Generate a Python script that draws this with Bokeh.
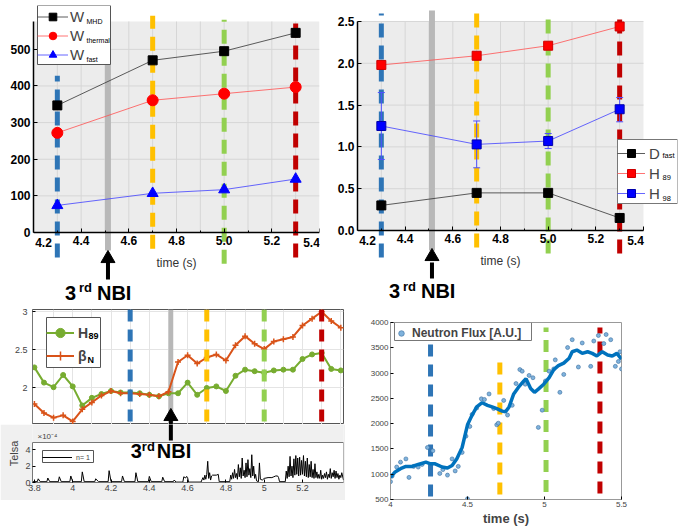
from bokeh.plotting import figure
from bokeh.layouts import row, column
from bokeh.models import (Range1d, Legend, LegendItem, Label, Span, BoxAnnotation,
                          FixedTicker, NumeralTickFormatter)
from bokeh.embed import file_html
from bokeh.resources import INLINE

FONT = "Liberation Sans"

# ---------------- data ----------------
times = [4.3, 4.7, 5.0, 5.3]
W_MHD = [347, 470, 495, 545]
W_thermal = [272, 361, 379, 397]
W_fast = [74, 107, 117, 146]
D_fast = [0.30, 0.45, 0.45, 0.15]
H89 = [1.98, 2.09, 2.21, 2.44]
H98 = [1.25, 1.03, 1.07, 1.45]
H98_low = [0.85, 0.75, 0.98, 1.30]
H98_high = [1.65, 1.31, 1.16, 1.59]

event_colors = ["#2e75b6", "#ffc000", "#92d050", "#c00000"]
nbi_window = [4.50, 4.525]
nbi_time = 4.5125

top_xticks = [4.2, 4.4, 4.6, 4.8, 5.0, 5.2, 5.4]
top_xminor = [4.3, 4.5, 4.7, 4.9, 5.1, 5.3]
w_yticks = [0, 100, 200, 300, 400, 500]
h_yticks = [0.0, 0.5, 1.0, 1.5, 2.0, 2.5]

scan_t = [3.80, 3.85, 3.90, 3.95, 4.00, 4.05, 4.10, 4.15, 4.20, 4.25, 4.30,
          4.35, 4.40, 4.45, 4.50, 4.55, 4.60, 4.65, 4.70, 4.75, 4.80, 4.85,
          4.90, 4.95, 5.00, 5.05, 5.10, 5.15, 5.20, 5.25, 5.30, 5.35, 5.40]
scan_H89 = [2.27, 2.07, 2.01, 2.17, 2.02, 1.77, 1.87, 1.92, 1.96, 1.94, 1.94,
            1.93, 1.91, 1.89, 1.93, 1.93, 2.07, 1.91, 2.00, 2.02, 1.96, 2.16,
            2.24, 2.22, 2.20, 2.23, 2.24, 2.24, 2.38, 2.44, 2.46, 2.25, 2.23]
scan_betaN = [1.79, 1.67, 1.61, 1.64, 1.56, 1.72, 1.81, 1.90, 1.96, 1.93, 1.93,
              1.92, 1.91, 1.89, 1.95, 2.34, 2.43, 2.32, 2.40, 2.44, 2.36, 2.56,
              2.68, 2.58, 2.51, 2.61, 2.64, 2.67, 2.82, 2.91, 3.00, 2.88, 2.79]
scan_xticks = [3.8, 4.0, 4.2, 4.4, 4.6, 4.8, 5.0, 5.2]
scan_xgrid = [3.9, 4.0, 4.1, 4.2, 4.3, 4.4, 4.5, 4.6, 4.7, 4.8, 4.9, 5.0, 5.1,
              5.2, 5.3, 5.4]
scan_yticks = [2.0, 2.5, 3.0]

# n=1 magnetic perturbation amplitude (units of 1e-4 T)
mode_n1_t = [3.790, 3.815, 3.820, 3.830, 3.865, 3.870, 3.880, 3.925, 3.930, 3.940,
             3.985, 3.990, 4.000, 4.045, 4.050, 4.060, 4.115, 4.120, 4.135, 4.185,
             4.190, 4.200, 4.255, 4.260, 4.270, 4.325, 4.330, 4.340, 4.395, 4.400,
             4.410, 4.465, 4.470, 4.480, 4.525, 4.530, 4.540, 4.575, 4.580, 4.590,
             4.595, 4.600, 4.605, 4.670, 4.680, 4.685, 4.690, 4.695, 4.700, 4.705,
             4.710, 4.715, 4.720, 4.725, 4.730, 4.750, 4.760, 4.765, 4.820, 4.825,
             4.830, 4.835, 4.840, 4.845, 4.850, 4.855, 4.860, 4.865, 4.870, 4.875,
             4.880, 4.885, 4.890, 4.895, 4.900, 4.905, 4.910, 4.915, 4.920, 4.925,
             4.930, 4.935, 4.940, 4.945, 4.950, 4.955, 4.960, 4.970, 4.975, 4.980,
             4.990, 5.000, 5.020, 5.040, 5.050, 5.060, 5.070, 5.075, 5.080, 5.110,
             5.115, 5.120, 5.125, 5.130, 5.135, 5.140, 5.145, 5.150, 5.155, 5.160,
             5.165, 5.170, 5.175, 5.180, 5.185, 5.190, 5.195, 5.200, 5.205, 5.210,
             5.215, 5.220, 5.225, 5.230, 5.235, 5.240, 5.245, 5.250, 5.255, 5.260,
             5.265, 5.270, 5.275, 5.280, 5.285, 5.290, 5.295, 5.300, 5.305, 5.310,
             5.315, 5.320, 5.325, 5.330, 5.335, 5.340, 5.345, 5.350, 5.355, 5.360,
             5.365, 5.370, 5.375, 5.380, 5.385, 5.390, 5.395, 5.400, 5.405, 5.414]
mode_n1_b = [0.10, 0.10, 0.45, 0.10, 0.10, 0.55, 0.10, 0.10, 0.70, 0.10,
             0.10, 0.80, 0.10, 0.10, 1.30, 0.10, 0.10, 0.45, 0.10, 0.10,
             1.45, 0.10, 0.10, 0.80, 0.10, 0.10, 1.20, 0.10, 0.10, 0.75,
             0.10, 0.10, 0.65, 0.10, 0.10, 0.30, 0.05, 0.05, 0.70, 0.55,
             0.75, 0.60, 0.05, 0.05, 0.60, 0.30, 0.90, 0.40, 1.00, 2.60,
             0.50, 1.20, 0.30, 0.80, 0.90, 0.90, 1.00, 0.10, 0.10, 0.90,
             0.40, 1.20, 0.50, 1.60, 0.60, 1.10, 0.40, 2.20, 0.70, 1.80,
             0.50, 3.00, 0.80, 1.50, 0.60, 2.40, 0.70, 2.80, 0.90, 1.70,
             0.60, 3.40, 0.80, 2.00, 0.50, 1.00, 0.20, 0.10, 2.40, 0.40,
             0.30, 0.50, 0.60, 0.60, 0.70, 0.80, 0.80, 0.60, 0.10, 0.10,
             1.40, 0.50, 2.00, 0.70, 3.20, 0.80, 2.00, 0.60, 2.90, 0.90,
             3.30, 1.00, 3.00, 0.80, 3.10, 0.90, 2.70, 1.00, 3.30, 0.80,
             2.60, 0.70, 3.00, 0.60, 2.20, 0.70, 2.60, 0.60, 1.60, 0.50,
             2.30, 0.60, 1.30, 0.50, 1.00, 0.50, 1.50, 0.40, 0.90, 0.50,
             1.10, 0.60, 1.30, 0.40, 1.00, 0.60, 1.70, 0.50, 1.20, 0.70,
             1.50, 0.50, 1.40, 0.60, 1.10, 0.40, 0.90, 0.60, 1.20, 0.30]
mode_yticks = [0, 2, 4]

neutron_raw_t = [4.00, 4.01, 4.04, 4.065, 4.10, 4.12, 4.15, 4.18, 4.205, 4.24,
                 4.275, 4.32, 4.34, 4.37, 4.40, 4.42, 4.44, 4.465, 4.49, 4.50,
                 4.515, 4.53, 4.56, 4.59, 4.61, 4.64, 4.67, 4.69, 4.70, 4.735,
                 4.76, 4.79, 4.815, 4.84, 4.855, 4.875, 4.90, 4.925, 4.96, 4.985,
                 5.006, 5.03, 5.06, 5.07, 5.10, 5.125, 5.15, 5.18, 5.22, 5.245,
                 5.30, 5.32, 5.35, 5.385, 5.40, 5.43, 5.46, 5.48, 5.49, 5.50]
neutron_raw = [853, 962, 1142, 1239, 1303, 937, 1155, 1142, 1193, 1528,
               1463, 1014, 1091, 982, 1303, 1065, 1155, 1431, 1752, 513,
               1945, 2183, 2311, 2491, 2478, 2587, 2298, 1977, 2009, 2459,
               2170, 2362, 2793, 3069, 3037, 2780, 2953, 2908, 1926, 2266,
               2844, 3037, 3082, 3261, 2619, 2973, 3505, 3660, 3120, 3595,
               3133, 3634, 3743, 3583, 3762, 3660, 3133, 3229, 3422, 3082]
neutron_smooth_t = [4.00, 4.03, 4.065, 4.10, 4.14, 4.18, 4.23, 4.26, 4.29, 4.335,
                    4.37, 4.40, 4.43, 4.465, 4.50, 4.53, 4.56, 4.595, 4.63, 4.66,
                    4.69, 4.725, 4.747, 4.77, 4.80, 4.83, 4.866, 4.88, 4.91, 4.935,
                    4.96, 4.995, 5.03, 5.06, 5.09, 5.125, 5.16, 5.18, 5.21, 5.245,
                    5.28, 5.31, 5.34, 5.375, 5.41, 5.44, 5.47, 5.50]
neutron_smooth = [937, 1046, 1110, 1155, 1155, 1193, 1239, 1206, 1206, 1142,
                  1123, 1174, 1303, 1528, 1977, 2170, 2330, 2414, 2362, 2330,
                  2298, 2247, 2234, 2330, 2587, 2716, 2844, 2889, 2696, 2619,
                  2683, 2780, 2908, 3069, 3146, 3197, 3294, 3422, 3454, 3390,
                  3422, 3390, 3339, 3422, 3358, 3339, 3390, 3275]
neutron_events = [4.26, 4.71, 5.01, 5.36]
neutron_xticks = [4.0, 4.5, 5.0, 5.5]
neutron_yticks = [500, 1000, 1500, 2000, 2500, 3000, 3500, 4000]


def base_fig(width, height, xr, yr, ml, mr, mt, mb):
    return figure(width=width, height=height, x_range=Range1d(*xr), y_range=Range1d(*yr),
                  min_border_left=ml, min_border_right=mr, min_border_top=mt,
                  min_border_bottom=mb, output_backend="svg", toolbar_location=None,
                  sizing_mode="fixed")


def style_axes(p, font_size, color, bold=False, tick_in=3):
    for ax in p.axis:
        ax.major_tick_in = tick_in
        ax.major_tick_out = 0
        ax.minor_tick_in = 2
        ax.minor_tick_out = 0
        ax.major_label_text_font = FONT
        ax.major_label_text_font_size = font_size
        ax.major_label_text_color = color
        ax.major_label_text_font_style = "bold" if bold else "normal"


def style_top(p, yticks, ytop, yfmt):
    p.background_fill_color = "white"
    p.border_fill_color = "white"
    p.outline_line_color = None
    p.grid.grid_line_color = None
    # grey plotting area and its grid lines
    p.quad(left=top_xticks[0], right=top_xticks[-1], bottom=0, top=ytop,
           fill_color="#ececec", line_color=None)
    p.segment(x0=top_xticks[1:-1] + top_xminor, y0=0, x1=top_xticks[1:-1] + top_xminor,
              y1=ytop, line_color="#d6d6d6", line_width=1)
    p.segment(x0=top_xticks[0], y0=yticks[1:], x1=top_xticks[-1], y1=yticks[1:],
              line_color="#d6d6d6", line_width=1)
    p.xaxis.ticker = FixedTicker(ticks=top_xticks, minor_ticks=top_xminor)
    p.yaxis.ticker = FixedTicker(ticks=yticks)
    p.xaxis.formatter = NumeralTickFormatter(format="0.0")
    p.yaxis.formatter = NumeralTickFormatter(format=yfmt)
    # end labels are drawn separately (pulled inside the axis ends)
    p.xaxis.major_label_overrides = {top_xticks[0]: "", top_xticks[-1]: ""}
    p.xaxis.fixed_location = 0
    p.xaxis.bounds = (top_xticks[0], top_xticks[-1])
    p.yaxis.bounds = (0, ytop)
    style_axes(p, "12px", "black", bold=True, tick_in=4)
    for ax in p.axis:
        ax.axis_line_color = "black"
        ax.axis_line_width = 1.5
        ax.major_tick_line_color = "black"
        ax.minor_tick_line_color = "black"
        ax.major_label_standoff = 3
    p.yaxis.minor_tick_line_color = None
    p.xaxis.axis_label = "time (s)"
    p.xaxis.axis_label_text_font = FONT
    p.xaxis.axis_label_text_font_style = "normal"
    p.xaxis.axis_label_text_font_size = "12px"
    p.xaxis.axis_label_text_color = "#333333"
    p.xaxis.axis_label_standoff = 8
    for tx, off in ((top_xticks[0], 10), (top_xticks[-1], -8)):
        p.add_layout(Label(x=tx, y=0, x_offset=off, y_offset=-5, text=f"{tx:.1f}",
                           text_font=FONT, text_font_style="bold", text_font_size="12px",
                           text_color="black", text_align="center", text_baseline="top",
                           level="overlay"))


def event_lines(p, xs, extents, width=5, dash="14 8"):
    for x, c, (y0, y1) in zip(xs, event_colors, extents):
        p.segment(x0=x, y0=y0, x1=x, y1=y1, line_color=c, line_width=width,
                  line_dash=dash)


def band(p, y0, y1):
    p.quad(left=nbi_window[0], right=nbi_window[1], bottom=y0, top=y1,
           fill_color="#b8b8b8", line_color=None)


def up_arrow(p, y_tail, y_shaft_top, y_head):
    p.segment(x0=nbi_time, y0=y_tail, x1=nbi_time, y1=y_shaft_top, line_color="black",
              line_width=4)
    if y_head is not None:
        p.scatter(x=[nbi_time], y=[y_head], marker="triangle", size=14,
                  fill_color="black", line_color="black")


def nbi_text(p, y_main, y_sup, size, sup, dx):
    for txt, fs, off, yy in (("3", size, dx[0], y_main), ("rd", sup, dx[1], y_sup),
                             ("NBI", size, dx[2], y_main)):
        p.add_layout(Label(x=nbi_time, y=yy, x_offset=off, text=txt, text_font=FONT,
                           text_font_style="bold", text_font_size=f"{fs}px",
                           text_color="black", text_align="left",
                           text_baseline="middle", level="overlay"))


def sub_labels(p, items, fs="7px", bold=False):
    for txt, x, y in items:
        p.add_layout(Label(x=x, y=y, x_units="screen", y_units="screen", text=txt,
                           text_font=FONT, text_font_size=fs,
                           text_font_style="bold" if bold else "normal",
                           text_color="black", text_baseline="middle", text_align="left",
                           level="overlay"))


def add_legend(p, items, loc, pad, gw, gh, lw, so, fs, bold=False, border="#555555",
               n=1):
    # white framed box behind a transparent legend (so that subscripts stay visible)
    w = 2 * pad + gw + so + lw
    h = 2 * pad + n * gh
    p.add_layout(BoxAnnotation(left=loc[0], right=loc[0] + w, bottom=loc[1],
                               top=loc[1] + h, left_units="screen", right_units="screen",
                               bottom_units="screen", top_units="screen",
                               fill_color="white", fill_alpha=1.0, line_color=border,
                               line_width=1, line_alpha=1.0))
    p.add_layout(Legend(items=items, location=loc, padding=pad, spacing=0, margin=0,
                        glyph_width=gw, glyph_height=gh, label_height=gh, label_width=lw,
                        label_standoff=so, label_text_font=FONT, label_text_font_size=fs,
                        label_text_font_style="bold" if bold else "normal",
                        border_line_color=None, background_fill_alpha=0.0))


# ---------------- panel 1: stored energy ----------------
p1 = base_fig(320, 306, (4.2, 5.4), (-196.5, 619.7), 33, 1, 5, 2)
style_top(p1, w_yticks, 576, "0")
band(p1, -49, 483)
event_lines(p1, times, [(-68, 428), (-44, 592), (-85, 581), (-68, 587)])
l1 = p1.line(times, W_MHD, line_color="#333333", line_width=0.8)
m1 = p1.scatter(times, W_MHD, marker="square", size=9, fill_color="black", line_color="black")
l2 = p1.line(times, W_thermal, line_color="#ff5050", line_width=0.8)
m2 = p1.scatter(times, W_thermal, marker="circle", size=11, fill_color="red", line_color="red")
l3 = p1.line(times, W_fast, line_color="#4040ff", line_width=0.8)
m3 = p1.scatter(times, W_fast, marker="triangle", size=11, fill_color="blue", line_color="blue")
add_legend(p1, [LegendItem(label="W", renderers=[l1, m1]),
                LegendItem(label="W", renderers=[l2, m2]),
                LegendItem(label="W", renderers=[l3, m3])],
           (4, 240), 1, 31, 19, 38, 2, "15px", n=3)
sub_labels(p1, [("MHD", 53, 283.5), ("thermal", 53, 264.5), ("fast", 53, 245.5)])
up_arrow(p1, -128, -75, -71)
nbi_text(p1, -163.8, -150.1, 20, 13, (-43, -29, -11))

# ---------------- panel 2: confinement ----------------
p2 = base_fig(361, 306, (4.2, 5.5427), (-0.885, 2.691), 37, 4, 5, 2)
style_top(p2, h_yticks, 2.5, "0.0")
band(p2, -0.239, 2.632)
event_lines(p2, times, [(-0.323, 2.596), (-0.203, 2.632), (-0.275, 2.596), (-0.275, 2.596)])
p2.segment(x0=times, y0=H98_low, x1=times, y1=H98_high, line_color="#5050ff", line_width=1)
p2.scatter(times, H98_low, marker="dash", size=7, line_color="#5050ff", line_width=1)
p2.scatter(times, H98_high, marker="dash", size=7, line_color="#5050ff", line_width=1)
k1 = p2.line(times, D_fast, line_color="#333333", line_width=0.8)
n1 = p2.scatter(times, D_fast, marker="square", size=9, fill_color="black", line_color="black")
k2 = p2.line(times, H89, line_color="#ff5050", line_width=0.8)
n2 = p2.scatter(times, H89, marker="square", size=9, fill_color="red", line_color="#cc0000")
k3 = p2.line(times, H98, line_color="#4040ff", line_width=0.8)
n3 = p2.scatter(times, H98, marker="square", size=9, fill_color="blue", line_color="#0000aa")
add_legend(p2, [LegendItem(label="D", renderers=[k1, n1]),
                LegendItem(label="H", renderers=[k2, n2]),
                LegendItem(label="H", renderers=[k3, n3])],
           (260, 101), 2, 28, 20, 24, 4, "15px", border="#777777", n=3)
sub_labels(p2, [("fast", 305, 149), ("89", 305, 127), ("98", 305, 106)], fs="7.5px")
up_arrow(p2, -0.574, -0.383, -0.311)
nbi_text(p2, -0.724, -0.664, 20, 13, (-43, -29, -11))

# ---------------- panel 3: H89 / betaN scan ----------------
XR3 = (3.79, 5.414)
p3 = base_fig(345, 118, XR3, (1.52, 3.03), 32, 2, 3, 0)
p3.xaxis.visible = False
p3.background_fill_color = "white"
p3.outline_line_color = "#555555"
p3.yaxis.ticker = FixedTicker(ticks=scan_yticks)
p3.yaxis.formatter = NumeralTickFormatter(format="0.[0]")
p3.xgrid.ticker = FixedTicker(ticks=scan_xgrid)
p3.xgrid.grid_line_color = "#e4e4e4"
p3.ygrid.grid_line_color = "#e4e4e4"
style_axes(p3, "9px", "#444444")
p3.yaxis.axis_line_color = "#777777"
p3.yaxis.minor_tick_line_color = None
p3.add_layout(BoxAnnotation(left=nbi_window[0], right=nbi_window[1],
                            fill_color="#b8b8b8", fill_alpha=1.0, line_color=None,
                            level="underlay"))
for x, c in zip(times, event_colors):
    p3.add_layout(Span(location=x, dimension="height", line_color=c, line_width=5,
                       line_dash="12 8"))
g1 = p3.line(scan_t, scan_H89, line_color="#77ac30", line_width=2)
g2 = p3.scatter(scan_t, scan_H89, marker="circle", size=5, fill_color="#77ac30",
                line_color="#77ac30")
b1 = p3.line(scan_t, scan_betaN, line_color="#d95319", line_width=2)
b2 = p3.scatter(scan_t, scan_betaN, marker="cross", size=6, line_color="#d95319",
                line_width=1.5)
add_legend(p3, [LegendItem(label="H", renderers=[g1, g2]),
                LegendItem(label="β", renderers=[b1, b2])],
           (14, 57), 2, 28, 23, 18, 4, "14px", bold=True, n=2)
sub_labels(p3, [("89", 56, 89), ("N", 55, 65)], fs="9px", bold=True)
up_arrow(p3, 1.45, 1.60, 1.625)

# ---------------- panel 4: n=1 mode amplitude ----------------
p4 = base_fig(345, 76, XR3, (0, 7.105), 32, 2, 0, 18)
p4.border_fill_color = "#f0f0f0"
p4.background_fill_color = "#f0f0f0"
p4.outline_line_color = None
p4.grid.grid_line_color = None
p4.quad(left=XR3[0], right=XR3[1], bottom=0, top=4.9, fill_color="white",
        line_color="#777777", line_width=1)
p4.xaxis.ticker = FixedTicker(ticks=scan_xticks)
p4.xaxis.formatter = NumeralTickFormatter(format="0.[0]")
p4.yaxis.ticker = FixedTicker(ticks=mode_yticks)
p4.yaxis.bounds = (0, 4.9)
style_axes(p4, "9px", "#444444")
for ax in p4.axis:
    ax.axis_line_color = "#777777"
    ax.minor_tick_line_color = None
    ax.major_label_standoff = 2
p4.yaxis.axis_label = "Telsa"
p4.yaxis.axis_label_text_font = FONT
p4.yaxis.axis_label_text_font_style = "normal"
p4.yaxis.axis_label_text_font_size = "11px"
p4.yaxis.axis_label_standoff = 2
tr = p4.line(mode_n1_t, mode_n1_b, line_color="black", line_width=1)
add_legend(p4, [LegendItem(label="n= 1", renderers=[tr])],
           (10, 20), 1, 30, 10, 15, 4, "7px", n=1)
p4.add_layout(Label(x=5, y=46, x_units="screen", y_units="screen", text="×10⁻⁴",
                    text_font=FONT, text_font_size="8px", text_color="#444444",
                    text_baseline="middle", level="overlay"))
up_arrow(p4, 5.145, 7.2, None)
nbi_text(p4, 3.80, 4.41, 20, 13, (-40, -29, -14))

# ---------------- panel 5: neutron flux ----------------
p5 = base_fig(336, 222, (4.0, 5.5), (500, 4000), 45, 60, 16, 25)
p5.background_fill_color = "white"
p5.outline_line_color = "#999999"
p5.grid.grid_line_color = None
p5.xaxis.ticker = FixedTicker(ticks=neutron_xticks)
p5.xaxis.formatter = NumeralTickFormatter(format="0.[0]")
p5.yaxis.ticker = FixedTicker(ticks=neutron_yticks)
style_axes(p5, "8px", "#444444")
for ax in p5.axis:
    ax.axis_line_color = "#999999"
    ax.minor_tick_line_color = None
    ax.major_label_standoff = 2
p5.xaxis.axis_label = "time (s)"
p5.xaxis.axis_label_text_font = FONT
p5.xaxis.axis_label_text_font_style = "bold"
p5.xaxis.axis_label_text_font_size = "13px"
p5.xaxis.axis_label_standoff = 1
event_lines(p5, neutron_events, [(560, 3600), (600, 3300), (650, 3900), (620, 3900)],
            width=5, dash="12 8")
dots = p5.scatter(neutron_raw_t, neutron_raw, marker="circle", size=4,
                  fill_color="#7fb2dc", line_color="#3a6fa0", line_width=0.6)
p5.line(neutron_smooth_t, neutron_smooth, line_color="#0072bd", line_width=3.5)
add_legend(p5, [LegendItem(label="Neutron Flux [A.U.]", renderers=[dots])],
           (4, 159), 2, 14, 14, 115, 4, "12px", bold=True, border="#777777", n=1)

layout = column(row(p1, p2), row(column(p3, p4), p5))
open("out.html", "w").write(file_html(layout, INLINE))
